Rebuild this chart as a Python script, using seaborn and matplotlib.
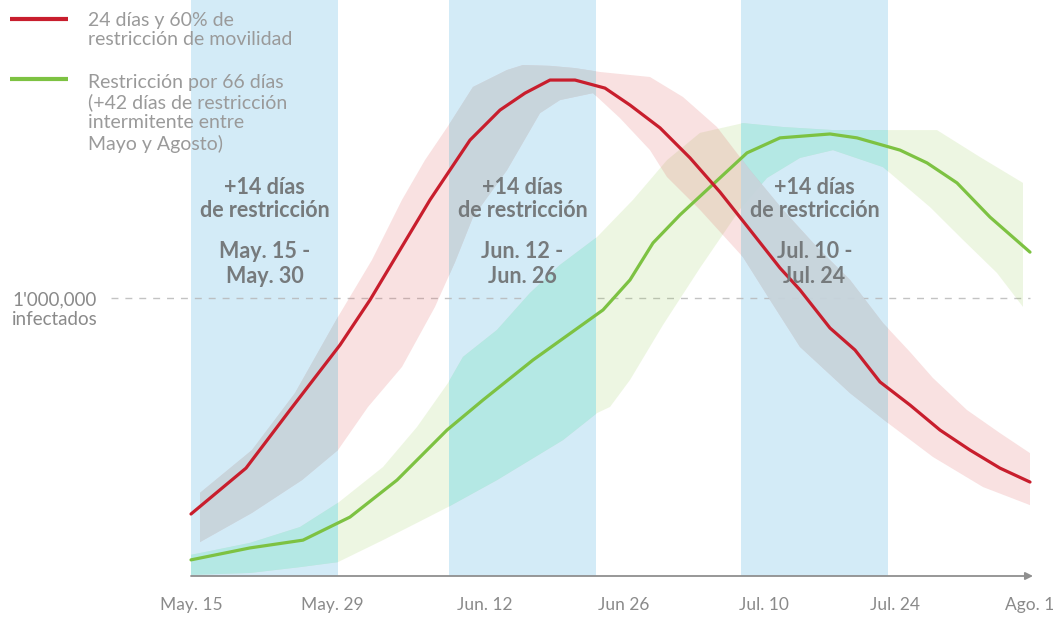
import numpy as np
import pandas as pd
import matplotlib
matplotlib.use("Agg")
import matplotlib.pyplot as plt
import seaborn as sns

# ---------------- data (x in days from May 15, y in millions infected) ----------------
red_x = [0.0, 5.5, 9.9, 14.9, 17.9, 20.9, 23.9, 27.9, 30.9, 33.4, 35.9, 38.4, 41.4, 43.9,
         46.9, 49.9, 52.9, 55.9, 58.9, 60.9, 63.9, 66.4, 68.9, 71.9, 74.9, 77.9, 80.9, 83.9]
red_y = [0.223, 0.388, 0.597, 0.831, 0.993, 1.173, 1.353, 1.568, 1.676, 1.737, 1.784, 1.784,
         1.755, 1.694, 1.612, 1.504, 1.381, 1.245, 1.108, 1.029, 0.892, 0.813, 0.698, 0.615,
         0.525, 0.453, 0.388, 0.338]

red_hi_x = [0.9, 6.1, 10.4, 14.7, 18.1, 21.1, 23.4, 25.9, 28.2, 31.6, 33.2, 35.9, 38.4, 40.9,
            45.9, 49.2, 52.6, 55.9, 59.2, 62.6, 65.9, 69.2, 71.9, 74.2, 77.6, 80.9, 83.9]
red_hi_y = [0.299, 0.453, 0.658, 0.932, 1.137, 1.353, 1.496, 1.629, 1.759, 1.820, 1.838, 1.835,
            1.827, 1.813, 1.795, 1.723, 1.615, 1.460, 1.317, 1.183, 1.065, 0.910, 0.806, 0.712,
            0.597, 0.514, 0.442]
red_lo_x = [0.9, 6.1, 11.1, 14.7, 17.7, 21.1, 24.4, 26.4, 28.2, 31.6, 34.9, 36.9, 40.2, 42.9,
            45.9, 47.6, 50.9, 55.2, 57.9, 60.9, 65.9, 69.7, 74.2, 79.2, 83.9]
red_lo_y = [0.122, 0.227, 0.345, 0.453, 0.608, 0.752, 0.968, 1.129, 1.291, 1.460, 1.665, 1.712,
            1.737, 1.647, 1.532, 1.435, 1.317, 1.147, 0.993, 0.824, 0.658, 0.550, 0.428,
            0.320, 0.255]

green_x = [0.0, 5.9, 11.2, 15.9, 20.6, 25.6, 29.2, 34.2, 41.2, 43.9, 46.2, 48.9, 51.9, 55.6,
           58.9, 63.9, 66.6, 70.9, 73.6, 76.6, 79.9, 83.9]
green_y = [0.058, 0.101, 0.129, 0.212, 0.345, 0.525, 0.633, 0.777, 0.957, 1.065, 1.198, 1.299,
           1.399, 1.522, 1.576, 1.590, 1.576, 1.532, 1.486, 1.414, 1.291, 1.165]

green_hi_x = [0.0, 5.9, 10.9, 14.7, 19.2, 22.6, 25.7, 27.2, 30.6, 33.9, 36.9, 40.6, 44.2, 47.6,
              50.9, 55.2, 59.2, 64.2, 69.9, 74.6, 78.9, 83.2]
green_hi_y = [0.076, 0.119, 0.176, 0.263, 0.392, 0.536, 0.694, 0.788, 0.885, 1.018, 1.119, 1.219,
              1.353, 1.496, 1.594, 1.629, 1.615, 1.604, 1.604, 1.604, 1.507, 1.414]
green_lo_x = [0.0, 5.9, 10.9, 14.7, 19.2, 22.6, 25.7, 30.6, 33.9, 37.2, 40.6, 41.9, 43.9, 47.2,
              50.9, 55.0, 57.6, 60.9, 64.2, 69.2, 73.9, 77.2, 80.6, 83.2]
green_lo_y = [0.004, 0.011, 0.032, 0.050, 0.129, 0.191, 0.248, 0.345, 0.417, 0.489, 0.586, 0.608,
              0.705, 0.903, 1.108, 1.324, 1.432, 1.504, 1.532, 1.471, 1.327, 1.209, 1.090, 0.968]

restriction_start = [0.0, 25.8, 55.0]
restriction_end = [14.7, 40.5, 69.7]
restriction_dates = ["May. 15 -\nMay. 30", "Jun. 12 -\nJun. 26", "Jul. 10 -\nJul. 24"]

tick_pos = [0.0, 14.1, 29.4, 43.3, 57.3, 70.4, 83.9]
tick_labels = ["May. 15", "May. 29", "Jun. 12", "Jun 26", "Jul. 10", "Jul. 24", "Ago. 1"]

threshold = 1.0  # million

legend_red = "24 días y 60% de\nrestricción de movilidad"
legend_green = "Restricción por 66 días\n(+42 días de restricción\nintermitente entre\nMayo y Agosto)"

# ---------------- style ----------------
sns.set_theme(style="white")
plt.rcParams["font.family"] = ["Lato", "DejaVu Sans"]

RED = "#c81e2d"
GREEN = "#7dc242"
BLUE_BAND = "#d3ebf7"

fig = plt.figure(figsize=(10.59, 6.17), dpi=100)
ax = fig.add_axes([0, 41 / 617, 1, 576 / 617])
ax.set_xlim(-19.1, 86.8)
ax.set_ylim(0, 576 / 278)
for s in ax.spines.values():
    s.set_visible(False)
ax.set_yticks([])

# restriction bands
spans = []
for a, b in zip(restriction_start, restriction_end):
    spans.append(ax.axvspan(a, b, color=BLUE_BAND, lw=0, zorder=0))

# threshold dashed line
ax.plot([-8.0, 83.9], [threshold, threshold], ls=(0, (5, 5)), color="#b5b5b5",
        lw=1.0, alpha=0.8, zorder=0.5)


def band_poly(hx, hy, lx, ly):
    xs = list(hx) + list(lx)[::-1]
    ys = list(hy) + list(ly)[::-1]
    return xs, ys


gxs, gys = band_poly(green_hi_x, green_hi_y, green_lo_x, green_lo_y)
rxs, rys = band_poly(red_hi_x, red_hi_y, red_lo_x, red_lo_y)

ax.fill(gxs, gys, color="#8cc63f", alpha=0.15, lw=0, zorder=1)
for sp in spans:
    p = ax.fill(gxs, gys, color="#b4e8e4", lw=0, zorder=1.2)[0]
    p.set_clip_path(sp)

ax.fill(rxs, rys, color="#e05a5a", alpha=0.18, lw=0, zorder=2)
for sp in spans:
    p = ax.fill(rxs, rys, color="#c7d6dd", alpha=0.92, lw=0, zorder=2.2)[0]
    p.set_clip_path(sp)

# lines
df_red = pd.DataFrame({"x": red_x, "y": red_y})
df_green = pd.DataFrame({"x": green_x, "y": green_y})
sns.lineplot(data=df_green, x="x", y="y", color=GREEN, lw=2.3, ax=ax, zorder=3, legend=False)
sns.lineplot(data=df_red, x="x", y="y", color=RED, lw=2.3, ax=ax, zorder=4, legend=False)
ax.set_xlabel("")
ax.set_ylabel("")

# axis arrow
ax.annotate("", xy=(84.2, 0), xytext=(0, 0),
            arrowprops=dict(arrowstyle="-|>", color="#8f8f8f", lw=1.3, mutation_scale=11,
                            shrinkA=0, shrinkB=0), zorder=5, annotation_clip=False)

ax.set_xticks(tick_pos)
ax.set_xticklabels(tick_labels)
ax.tick_params(axis="x", length=0, pad=15, labelsize=12.5, labelcolor="#8a8a8a")

# band annotations
for a, b, d in zip(restriction_start, restriction_end, restriction_dates):
    c = (a + b) / 2
    ax.text(c, 1.356, "+14 días\nde restricción", ha="center", va="center", fontsize=15.5,
            fontweight="bold", color="#767a7c", linespacing=1.15, zorder=6)
    ax.text(c, 1.122, d, ha="center", va="center", fontsize=15.5,
            fontweight="bold", color="#767a7c", linespacing=1.2, zorder=6)

# threshold label
ax.text(-17.9, 0.959, "1'000,000\ninfectados", ha="left", va="center", fontsize=13.5,
        color="#8a8a8a", linespacing=1.2, zorder=6)

# legend
ax.plot([-18.1, -12.3], [2.004, 2.004], color=RED, lw=3, solid_capstyle="butt", zorder=6)
ax.plot([-18.1, -12.3], [1.788, 1.788], color=GREEN, lw=3, solid_capstyle="butt", zorder=6)
ax.text(-10.3, 1.964, legend_red, ha="left", va="center", fontsize=14, color="#9a9a9a",
        linespacing=1.2, zorder=6)
ax.text(-10.3, 1.665, legend_green, ha="left", va="center", fontsize=14, color="#9a9a9a",
        linespacing=1.2, zorder=6)

fig.savefig("out.png", dpi=100)
